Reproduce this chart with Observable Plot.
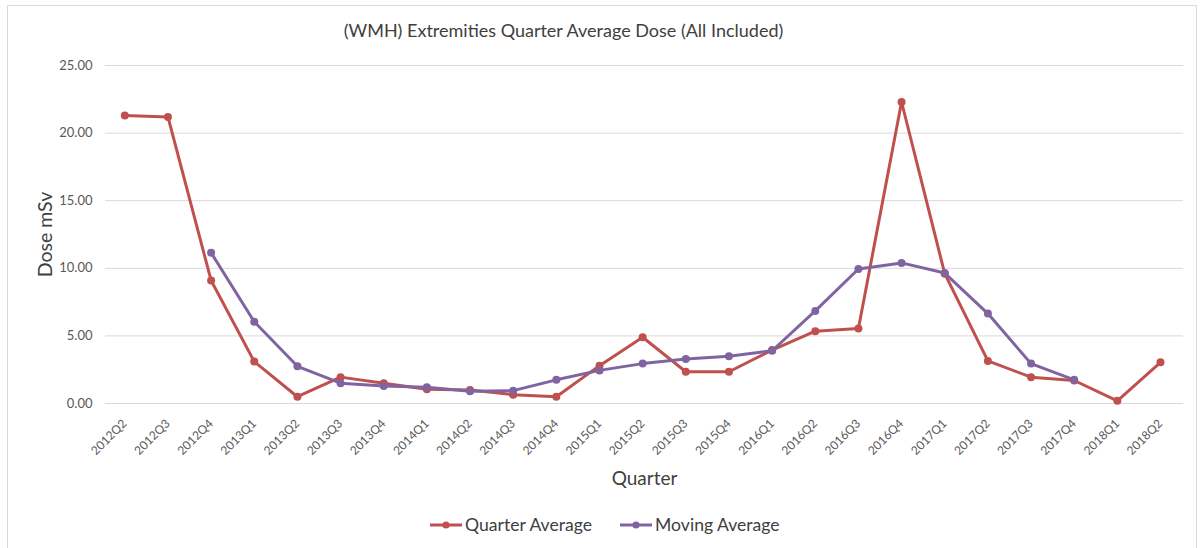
<!DOCTYPE html>
<html>
<head>
<meta charset="utf-8">
<script src="https://cdn.jsdelivr.net/npm/d3@7"></script>
<script src="https://cdn.jsdelivr.net/npm/@observablehq/plot@0.6"></script>
<style>
  html, body { margin: 0; padding: 0; background: #fff; }
  body { width: 1200px; height: 548px; overflow: hidden; position: relative; font-family: Lato, "Open Sans", sans-serif; }
  #frame { position: absolute; left: 7px; top: 5px; width: 1190px; height: 600px; box-sizing: border-box;
           border: 1px solid #d9d9d9; border-bottom: none; }
  #title { position: absolute; left: 555.5px; top: 14px; line-height: 20px; white-space: nowrap;
           transform: translateX(-50%); font-size: 18px; color: #404040; }
  #chart { position: absolute; left: 0; top: 44px; }
  #legend { position: absolute; top: 509px; left: 422px; display: flex; align-items: center;
            font-size: 17.6px; color: #404040; line-height: 20px; white-space: nowrap; }
  .item { display: flex; align-items: center; }
  .item svg { margin-right: 3px; }
</style>
</head>
<body>
<div id="frame">
  <div id="title">(WMH) Extremities Quarter Average Dose (All Included)</div>
  <div id="chart"></div>
  <div id="legend"></div>
</div>
<script>
// Quarterly extremity dose (mSv)
const quarters = ["2012Q2","2012Q3","2012Q4","2013Q1","2013Q2","2013Q3","2013Q4",
  "2014Q1","2014Q2","2014Q3","2014Q4","2015Q1","2015Q2","2015Q3","2015Q4",
  "2016Q1","2016Q2","2016Q3","2016Q4","2017Q1","2017Q2","2017Q3","2017Q4",
  "2018Q1","2018Q2"];
const quarterAverage = [21.3, 21.2, 9.1, 3.1, 0.5, 1.95, 1.5, 1.05, 1.0, 0.65, 0.5,
  2.8, 4.9, 2.35, 2.35, 3.95, 5.35, 5.55, 22.3, 9.6, 3.15, 1.95, 1.7, 0.2, 3.05];
const movingAverage = [null, null, 11.15, 6.05, 2.75, 1.5, 1.3, 1.2, 0.9, 0.95, 1.75,
  2.45, 2.95, 3.3, 3.5, 3.9, 6.85, 9.95, 10.4, 9.65, 6.65, 2.95, 1.75, null, null];
const yTicks = [0, 5, 10, 15, 20, 25];

const seriesNames = ["Quarter Average", "Moving Average"];
const seriesColors = ["#C0504D", "#8064A2"];

const qa = quarters.map((q, i) => ({quarter: q, value: quarterAverage[i]}));
const ma = quarters.map((q, i) => ({quarter: q, value: movingAverage[i]}));

const textColor = "#595959";
const labelColor = "#404040";

const chart = Plot.plot({
  width: 1188,
  height: 448,
  marginLeft: 97,
  marginRight: 13,
  marginTop: 15,
  marginBottom: 95,
  style: {fontFamily: "Lato, 'Open Sans', sans-serif", background: "transparent", overflow: "visible"},
  x: {type: "point", domain: quarters, range: [116.3, 1152], padding: 0, round: false},
  y: {domain: [0, 25]},
  marks: [
    Plot.gridY(yTicks, {stroke: "#d9d9d9", strokeOpacity: 1, strokeWidth: 1}),
    Plot.axisY(yTicks, {tickSize: 0, tickPadding: 13, tickFormat: d => d.toFixed(2),
      fontSize: 13, fill: textColor, label: null}),
    Plot.axisX({tickSize: 0, tickRotate: -45, tickPadding: 18, dx: 0,
      fontSize: 12, fill: textColor, label: null}),
    Plot.lineY(qa, {x: "quarter", y: "value", stroke: seriesColors[0], strokeWidth: 3}),
    Plot.dot(qa, {x: "quarter", y: "value", r: 4, fill: seriesColors[0], stroke: "none"}),
    Plot.lineY(ma, {x: "quarter", y: "value", stroke: seriesColors[1], strokeWidth: 3}),
    Plot.dot(ma, {x: "quarter", y: "value", r: 4, fill: seriesColors[1], stroke: "none"}),
    Plot.text(["Quarter"], {frameAnchor: "bottom", dy: 81, fontSize: 19, fill: labelColor}),
    Plot.text(["Dose mSv"], {frameAnchor: "left", textAnchor: "middle", dx: -60, rotate: -90,
      fontSize: 19.5, fill: labelColor})
  ]
});
document.getElementById("chart").appendChild(chart);

// Legend: line-with-marker swatches
const legend = document.getElementById("legend");
seriesNames.forEach((name, i) => {
  const item = document.createElement("div");
  item.className = "item";
  if (i > 0) item.style.marginLeft = "28px";
  item.innerHTML = `<svg width="32" height="10"><line x1="0" x2="32" y1="5" y2="5" stroke="${seriesColors[i]}" stroke-width="3"/><circle cx="16" cy="5" r="3.6" fill="${seriesColors[i]}"/></svg><span>${name}</span>`;
  legend.appendChild(item);
});
</script>
</body>
</html>
